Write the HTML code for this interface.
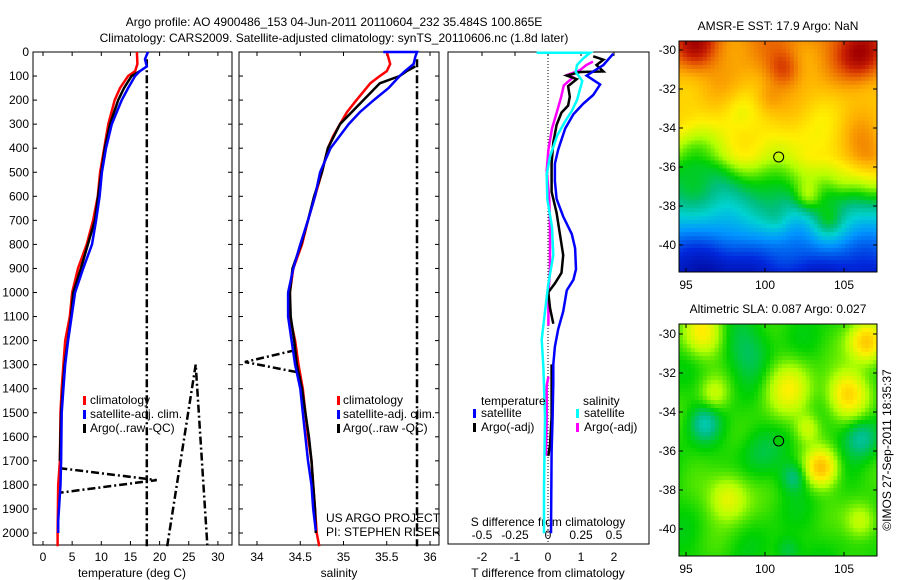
<!DOCTYPE html>
<html><head><meta charset="utf-8">
<style>
html,body{margin:0;padding:0;background:#fff;}
svg{display:block;font-family:"Liberation Sans",sans-serif;}
text{font-size:12px;fill:#000;}
</style></head>
<body>
<svg id="fig" width="900" height="580" viewBox="0 0 900 580">
<text x="334" y="26" text-anchor="middle">Argo profile: AO 4900486_153 04-Jun-2011 20110604_232 35.484S 100.865E</text>
<text x="334" y="42" text-anchor="middle">Climatology: CARS2009. Satellite-adjusted climatology: synTS_20110606.nc (1.8d later)</text>
<g id="g1"></g>
<g id="g2"></g>
<g id="g3"></g>
<g id="m1"></g>
<g id="m2"></g>
<text x="0" y="0" transform="translate(891,450) rotate(-90)" text-anchor="middle">©IMOS 27-Sep-2011 18:35:37</text>
</svg>
<script>
// ---- data: temperature panel [value, depth]
const tempClim=[[16.1,0],[16.2,50],[15.8,80],[14.6,100],[13.2,150],[12.3,200],[11.2,300],[10.5,400],[9.8,500],[9.4,600],[8.6,700],[7.5,800],[6.0,900],[5.0,1000],[4.6,1100],[3.8,1200],[3.5,1300],[3.2,1400],[3.0,1500],[2.9,1700],[2.6,1800],[2.5,2000],[2.5,2055]];
const tempSat=[[18.0,0],[17.5,30],[17.8,60],[16.6,80],[15.8,100],[14.6,150],[13.5,200],[11.8,300],[10.8,400],[10.1,500],[9.7,600],[9.1,700],[8.4,800],[6.9,900],[5.5,1000],[4.9,1100],[4.3,1200],[3.8,1300],[3.5,1400],[3.2,1500],[3.1,1700],[3.0,1800],[2.6,1950],[2.6,2000]];
const tempArgo=[[16.6,80],[15.2,100],[13.9,150],[12.9,200],[11.5,300],[10.6,400],[10.0,500],[8.9,700],[6.5,900],[5.2,1000],[4.8,1100],[3.7,1300],[3.1,1500],[2.9,1700]];
const tempRaw1=[[17.8,30],[17.8,2055]];
const tempRaw2=[[2.8,1730],[19.5,1780],[2.8,1833]];
const tempRaw3=[[21.3,2055],[26.2,1300],[28.2,2055]];
// salinity panel
const salClim=[[35.50,0],[35.54,50],[35.50,80],[35.42,100],[35.31,130],[35.15,200],[35.04,250],[34.96,300],[34.88,350],[34.82,400],[34.75,500],[34.67,600],[34.59,700],[34.52,800],[34.42,900],[34.38,1000],[34.38,1100],[34.44,1200],[34.48,1300],[34.53,1400],[34.56,1500],[34.59,1600],[34.63,1700],[34.65,1800],[34.67,1900],[34.69,2000],[34.72,2055]];
const salSat=[[35.46,0],[35.85,0],[35.83,20],[35.81,50],[35.71,80],[35.65,100],[35.52,150],[35.35,200],[35.19,250],[35.06,300],[34.85,400],[34.79,450],[34.73,500],[34.67,600],[34.59,700],[34.50,800],[34.42,900],[34.36,1000],[34.36,1100],[34.40,1200],[34.44,1300],[34.50,1400],[34.53,1500],[34.56,1600],[34.59,1700],[34.63,1800],[34.65,1900],[34.68,1990]];
const salArgo=[[35.83,60],[35.73,80],[35.65,100],[35.57,110],[35.42,130],[35.23,200],[34.96,300],[34.82,400],[34.75,500],[34.66,600],[34.59,700],[34.51,800],[34.41,900],[34.38,1000],[34.39,1100],[34.43,1200],[34.46,1300],[34.52,1400],[34.56,1500],[34.60,1600],[34.63,1700],[34.65,1800],[34.67,1900],[34.68,2000]];
const salRaw1=[[35.85,30],[35.85,2055]];
const salRaw2=[[34.44,1240],[33.86,1289],[34.47,1332]];
// difference panel
const dTsat=[[1.98,7],[1.68,54],[1.17,98],[1.58,135],[1.37,179],[1.07,215],[0.77,259],[0.52,318],[0.31,406],[0.21,464],[0.21,537],[0.26,611],[0.46,684],[0.72,757],[0.82,816],[0.85,903],[0.77,947],[0.57,991],[0.46,1079],[0.31,1152],[0.21,1225],[0.16,1299],[0.16,1372],[0.14,1518],[0.11,1665],[0.09,2001]];
const dTargo1=[[1.37,18],[1.68,32],[1.47,54],[1.68,81],[0.97,83],[0.57,98],[0.87,113],[0.61,142],[0.66,186],[0.61,223],[0.41,252],[0.26,303],[0.16,376],[0.11,464],[0.11,581],[0.26,669],[0.36,757],[0.46,845],[0.41,918],[0.21,962],[0.01,999],[0.06,1064],[0.16,1130]];
const dTargo2=[[0.11,1299],[0.11,1518],[0.06,1635],[0.01,1679]];
const dSsat=[[-0.086,3],[0.32,3],[0.27,25],[0.22,54],[0.21,83],[0.26,120],[0.22,200],[0.18,245],[0.13,288],[0.07,347],[0.015,435],[-0.01,508],[-0.005,611],[0.03,728],[0.04,845],[0.003,962],[-0.023,1079],[-0.048,1196],[-0.035,1313],[-0.023,1518],[-0.03,1811],[-0.03,2001]];
const dSargo1=[[0.34,40],[0.29,54],[0.24,76],[0.15,95],[0.19,105],[0.12,139],[0.10,186],[0.07,245],[0.03,318],[0.003,406],[-0.01,493],[0.01,611],[0.015,728],[0.015,903],[0.003,1006],[0.003,1138]];
const dSargo2=[[0.003,1350],[-0.01,1387],[-0.01,1518],[-0.015,1679]];
const depthTicks=[0,100,200,300,400,500,600,700,800,900,1000,1100,1200,1300,1400,1500,1600,1700,1800,1900,2000];
const tempTicks=[0,5,10,15,20,25,30];
const salTicks=[34,34.5,35,35.5,36];
const dTTicks=[-2,-1,0,1,2];
const dSTicks=[-0.5,-0.25,0,0.25,0.5];
const latTicks=[-30,-32,-34,-36,-38,-40];
const lonTicks=[95,100,105];

const NS='http://www.w3.org/2000/svg';
function mk(p,tag,at,txt){const e=document.createElementNS(NS,tag);for(const k in at)e.setAttribute(k,at[k]);if(txt!==undefined)e.textContent=txt;p.appendChild(e);return e;}
const yD=d=>52+d*0.2405;
const xT=v=>43+v*5.83;
const xS=v=>257+(v-34)*86.5;
const xdT=v=>548+v*33;
const xdS=v=>548+v*132;
function line(g,data,xf,yf,col,w,dash,name){
  const pts=data.map(p=>xf(p[0]).toFixed(1)+','+yf(p[1]).toFixed(1)).join(' ');
  const e=mk(g,'polyline',{points:pts,fill:'none',stroke:col,'stroke-width':w,'stroke-linejoin':'miter'});
  if(dash)e.setAttribute('stroke-dasharray',dash);
  
  
}
function box(g,x0,y0,x1,y1,name){
  const r=mk(g,'rect',{x:x0,y:y0,width:x1-x0,height:y1-y0,fill:'none',stroke:'#000','stroke-width':1});
  
  
}
function txt(g,x,y,s,anchor,name){
  const t=mk(g,'text',{x:x,y:y,'text-anchor':anchor||'start'},s);
  
  
}
// ---- panel 1
const g1=document.getElementById('g1');
box(g1,33,52,232,545,'temperature-axes-box');
depthTicks.forEach(d=>{const y=yD(d);mk(g1,'line',{x1:33,x2:37,y1:y,y2:y,stroke:'#000'});mk(g1,'line',{x1:228,x2:232,y1:y,y2:y,stroke:'#000'});txt(g1,29,y+4,String(d),'end','depth-tick-label');});
tempTicks.forEach(v=>{const x=xT(v);mk(g1,'line',{x1:x,x2:x,y1:545,y2:541,stroke:'#000'});mk(g1,'line',{x1:x,x2:x,y1:52,y2:56,stroke:'#000'});txt(g1,x,561,String(v),'middle','temperature-tick-label');});
txt(g1,132,577,'temperature (deg C)','middle','temperature-axis-title');
line(g1,tempRaw1,xT,yD,'#000',2.5,'8,3,2,3','temp-raw-qc-line');
line(g1,tempRaw2,xT,yD,'#000',2.5,'8,3,2,3','temp-raw-qc-spike');
line(g1,tempRaw3,xT,yD,'#000',2.5,'8,3,2,3','temp-raw-qc-spike-2');
line(g1,tempClim,xT,yD,'#f00',2.5,null,'temp-climatology-line');
line(g1,tempArgo,xT,yD,'#000',2.5,null,'temp-argo-line');
line(g1,tempSat,xT,yD,'#00f',2.5,null,'temp-satellite-line');
[['#f00','climatology'],['#00f','satellite-adj. clim.'],['#000','Argo(..raw -QC)']].forEach((e,i)=>{const y=404+i*14;mk(g1,'rect',{x:83,y:y-8,width:3,height:9,fill:e[0]});txt(g1,90,y,e[1],'start','temp-legend-entry');});
// ---- panel 2
const g2=document.getElementById('g2');
box(g2,239,52,439,545,'salinity-axes-box');
depthTicks.forEach(d=>{const y=yD(d);mk(g2,'line',{x1:239,x2:243,y1:y,y2:y,stroke:'#000'});mk(g2,'line',{x1:435,x2:439,y1:y,y2:y,stroke:'#000'});});
salTicks.forEach(v=>{const x=xS(v);mk(g2,'line',{x1:x,x2:x,y1:545,y2:541,stroke:'#000'});mk(g2,'line',{x1:x,x2:x,y1:52,y2:56,stroke:'#000'});txt(g2,x,561,String(v),'middle','salinity-tick-label');});
txt(g2,339,577,'salinity','middle','salinity-axis-title');
line(g2,salRaw1,xS,yD,'#000',2.5,'8,3,2,3','sal-raw-qc-line');
line(g2,salRaw2,xS,yD,'#000',2.5,'8,3,2,3','sal-raw-qc-spike');
line(g2,salClim,xS,yD,'#f00',2.5,null,'sal-climatology-line');
line(g2,salArgo,xS,yD,'#000',2.5,null,'sal-argo-line');
line(g2,salSat,xS,yD,'#00f',2.5,null,'sal-satellite-line');
[['#f00','climatology'],['#00f','satellite-adj. clim.'],['#000','Argo(..raw -QC)']].forEach((e,i)=>{const y=404+i*14;mk(g2,'rect',{x:337,y:y-8,width:3,height:9,fill:e[0]});txt(g2,343,y,e[1],'start','sal-legend-entry');});
txt(g2,326,522,'US ARGO PROJECT','start','project-label');
txt(g2,326,536,'PI: STEPHEN RISER','start','pi-label');
// ---- panel 3
const g3=document.getElementById('g3');
box(g3,448,52,649,544,'difference-axes-box');
mk(g3,'line',{x1:548,x2:548,y1:52,y2:544,stroke:'#000','stroke-dasharray':'1,2'});
dTTicks.forEach(v=>{const x=xdT(v);mk(g3,'line',{x1:x,x2:x,y1:52,y2:56,stroke:'#000'});txt(g3,x,561,String(v),'middle','t-diff-tick-label');});
dSTicks.forEach(v=>{const x=xdS(v);txt(g3,x,539,String(v),'middle','s-diff-tick-label');});
txt(g3,548,526,'S difference from climatology','middle','s-diff-axis-title');
txt(g3,548,577,'T difference from climatology','middle','t-diff-axis-title');
line(g3,dSargo1,xdS,yD,'#f0f',2.5,null,'s-argo-diff-line');
line(g3,dSargo2,xdS,yD,'#f0f',2.5,null,'s-argo-diff-line-2');
line(g3,dTargo1,xdT,yD,'#000',2.5,null,'t-argo-diff-line');
line(g3,dTargo2,xdT,yD,'#000',2.5,null,'t-argo-diff-line-2');
line(g3,dSsat,xdS,yD,'#0ff',2.5,null,'s-satellite-diff-line');
line(g3,dTsat,xdT,yD,'#00f',2.5,null,'t-satellite-diff-line');
txt(g3,481,405,'temperature','start','legend-temperature-heading');
txt(g3,583,405,'salinity','start','legend-salinity-heading');
[['#00f',473,'satellite',417],['#000',473,'Argo(-adj)',431],['#0ff',576,'satellite',417],['#f0f',576,'Argo(-adj)',431]].forEach(e=>{mk(g3,'rect',{x:e[1],y:e[3]-8,width:3,height:9,fill:e[0]});txt(g3,e[1]+8,e[3],e[2],'start','diff-legend-entry');});
// ---- maps
const cmap=[[0,0,0,140],[0.15,0,40,220],[0.28,0,150,255],[0.38,0,210,210],[0.45,0,190,130],[0.52,0,210,0],[0.6,180,255,0],[0.67,255,240,0],[0.75,255,180,0],[0.85,230,90,0],[0.92,200,30,0],[1,160,0,0]];
function col(v){v=Math.max(0,Math.min(1,v));
 for(let k=1;k<cmap.length;k++){if(v<=cmap[k][0]){const a=cmap[k-1],b=cmap[k],t=(v-a[0])/(b[0]-a[0]);
  return 'rgb('+Math.round(a[1]+t*(b[1]-a[1]))+','+Math.round(a[2]+t*(b[2]-a[2]))+','+Math.round(a[3]+t*(b[3]-a[3]))+')';}}
 return 'rgb(160,0,0)';}
const sstBumps=[[0.08,0.02,0.18,0.1],[0.92,0.06,0.22,0.11],[0.53,0.12,0.12,0.08],[0.45,0.25,0.06,0.07],[0.05,0.5,-0.1,0.12],[0.2,0.58,-0.06,0.1],[0.95,0.5,0.14,0.15],[0.82,0.62,0.06,0.08],[0.65,0.68,0.12,0.07],[0.75,0.78,0.12,0.08],[0.15,0.95,-0.1,0.12],[0.5,0.78,0.05,0.07],[0.3,0.3,-0.04,0.08]];
const slaBumps=[[0.12,0.04,0.14,0.1],[0.95,0.08,0.2,0.09],[0.35,0.12,-0.06,0.12],[0.13,0.43,-0.1,0.07],[0.92,0.49,-0.1,0.08],[0.58,0.66,-0.08,0.06],[0.72,0.62,0.2,0.08],[0.25,0.75,0.13,0.1],[0.85,0.3,0.17,0.1],[0.55,0.28,0.12,0.12],[0.18,0.3,0.08,0.07],[0.4,0.55,-0.04,0.1],[0.55,0.98,-0.06,0.06],[0.92,0.85,0.1,0.08],[0.65,0.45,0.08,0.06]];
function drawMap(id,x0,y0,w,h,base,bumps,tex,title,latY0,circFill){
 const g=document.getElementById(id);
 const nx=50,ny=58,cw=w/nx,ch=h/ny;
 for(let j=0;j<ny;j++)for(let i=0;i<nx;i++){
  const u=(i+.5)/nx,v=(j+.5)/ny;let val=base(u,v)+tex*Math.sin(17*u+5*v)*Math.cos(13*v-3*u+1);
  bumps.forEach(b=>{val+=b[2]*Math.exp(-((u-b[0])**2+(v-b[1])**2)/(b[3]*b[3]));});
  mk(g,'rect',{x:(x0+i*cw).toFixed(2),y:(y0+j*ch).toFixed(2),width:(cw+0.4).toFixed(2),height:(ch+0.4).toFixed(2),fill:col(val)});
 }
 box(g,x0,y0,x0+w,y0+h,id+'-frame');
 latTicks.forEach(l=>{const y=latY0+(-30-l)*19.5;mk(g,'line',{x1:x0,x2:x0+4,y1:y,y2:y,stroke:'#000'});mk(g,'line',{x1:x0+w-4,x2:x0+w,y1:y,y2:y,stroke:'#000'});txt(g,x0-3,y+4,String(l),'end','lat-tick-label');});
 lonTicks.forEach(l=>{const x=686+(l-95)*15.8;mk(g,'line',{x1:x,x2:x,y1:y0+h,y2:y0+h-4,stroke:'#000'});mk(g,'line',{x1:x,x2:x,y1:y0,y2:y0+4,stroke:'#000'});txt(g,x,y0+h+17,String(l),'middle','lon-tick-label');});
 txt(g,x0+w/2,y0-11,title,'middle',id+'-title');
 const c=mk(g,'circle',{cx:686+5.865*15.8,cy:latY0+5.484*19.5,r:5,fill:circFill,stroke:'#000','stroke-width':1});
 
 
}
drawMap('m1',679,41,198,231,(u,v)=>v<0.5?0.8-0.31*v:0.645-1.05*(v-0.5),sstBumps,0.03,'AMSR-E SST: 17.9 Argo: NaN',50,'none');
drawMap('m2',679,324,198,232,(u,v)=>0.53,slaBumps,0.02,'Altimetric SLA: 0.087 Argo: 0.027',334,'#0c0');
</script>
</body></html>
